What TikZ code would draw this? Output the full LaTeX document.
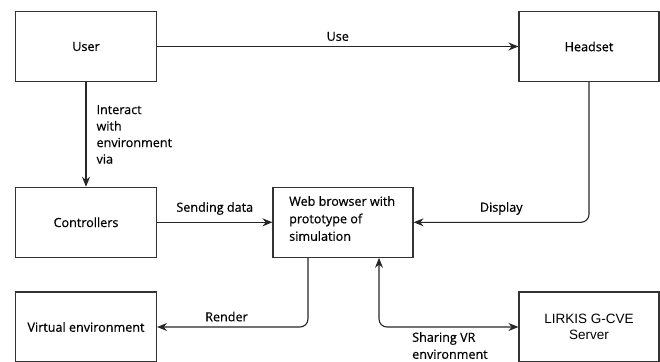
\documentclass[tikz,border=0pt]{standalone}
\usepackage{fontspec}
\setmainfont{Open Sans}[FakeBold=0.5]
\newfontfamily\arialfont{Liberation Sans}
\usetikzlibrary{arrows.meta}
\begin{document}
\begin{tikzpicture}[x=1pt,y=-1pt,
  box/.style={draw=black!80,line width=1.1pt,inner sep=0pt},
  conn/.style={draw=black!85,line width=1.1pt,-{Stealth[length=10pt,width=8pt]},rounded corners=8pt},
  lbl/.style={inner sep=0pt},
  every node/.style={font=\fontsize{12.6}{14}\selectfont}]
\useasboundingbox (0,0) rectangle (660,361);
\node[box,minimum width=141pt,minimum height=70pt] (user) at (86,46.5) {User};
\node[box,minimum width=140pt,minimum height=70pt] (head) at (589,46.5) {Headset};
\node[box,minimum width=141pt,minimum height=70pt] (ctrl) at (86,222.3) {Controllers};
\node[box,minimum width=140pt,minimum height=70pt] (web) at (343,222.3) {};
\node[anchor=north west,align=left,inner sep=0pt,font=\fontsize{12.6}{17.5}\selectfont] (webtxt) at (289,196) {Web browser with\\prototype of\\simulation};
\node[box,minimum width=141pt,minimum height=70pt] (ve) at (86,327) {Virtual environment};
\node[box,minimum width=140pt,minimum height=70pt,align=center,font=\arialfont\fontsize{13.5}{16}\selectfont] (srv) at (589,327) {LIRKIS G-CVE\\Server};
\coordinate (rc) at (308,326.7);
\coordinate (sc) at (379,326.7);
\draw[conn] (user) -- node[lbl,above=5pt] {Use} (head);
\draw[conn] (user) -- node[lbl,right=10pt,align=left,font=\fontsize{12.6}{16.5}\selectfont] {Interact\\with\\environment\\via} (ctrl);
\draw[conn] (ctrl) -- node[lbl,above=7pt] {Sending data} (web);
\draw[conn] (head) |- node[lbl,pos=0.75,above=7pt] {Display} (web.east);
\draw[conn] (web.south -| rc) |- node[lbl,pos=0.77,above=5pt] {Render} (ve.east);
\draw[conn,{Stealth[length=10pt,width=8pt]}-{Stealth[length=10pt,width=8pt]}] (web.south -| sc) |- (srv.west);
\node[lbl,align=left,anchor=north west,font=\fontsize{12.6}{17}\selectfont] (share) at (412,332) {Sharing VR\\environment};
\end{tikzpicture}
\end{document}
